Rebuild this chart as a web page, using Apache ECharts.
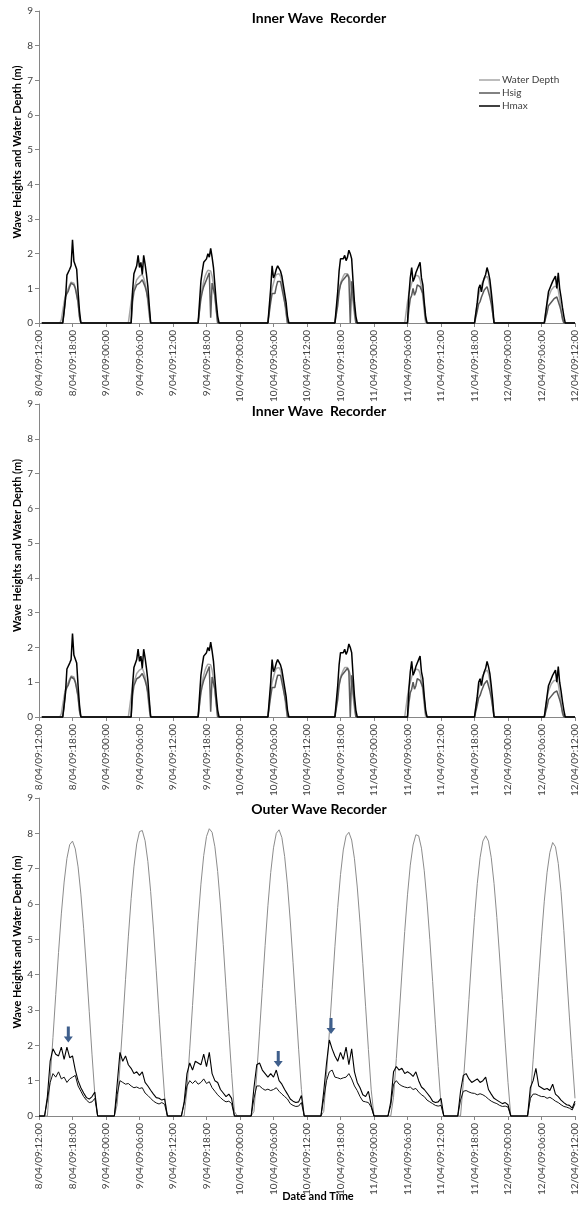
<!DOCTYPE html>
<html><head><meta charset="utf-8">
<script src="https://cdn.jsdelivr.net/npm/echarts@6/dist/echarts.min.js"></script>
<style>html,body{margin:0;padding:0;background:#fff}#c{width:579px;height:1207px}</style>
</head><body><div id="c"></div>
<script>
// x values are hours since 8/04/09 12:00
const xTickLabels = ['8/04/09:12:00','8/04/09:18:00','9/04/09:00:00','9/04/09:06:00','9/04/09:12:00','9/04/09:18:00','10/04/09:00:00','10/04/09:06:00','10/04/09:12:00','10/04/09:18:00','11/04/09:00:00','11/04/09:06:00','11/04/09:12:00','11/04/09:18:00','12/04/09:00:00','12/04/09:06:00','12/04/09:12:00'];
const seriesNames = ['Water Depth','Hsig','Hmax'];
const panelTitles = ['Inner Wave  Recorder','Inner Wave  Recorder','Outer Wave Recorder'];
const yAxisTitle = 'Wave Heights and Water Depth (m)';
const xAxisTitle = 'Date and Time';

// ---- Inner wave recorder ----
const innerTime = [0.5,
 3.75,4,4.25,4.5,4.75,5,5.25,5.5,5.75,6,6.25,6.5,6.75,7,7.25,7.5,7.75,
 16,16.25,16.5,16.75,17,17.25,17.5,17.75,18,18.25,18.5,18.75,19,19.25,19.5,19.75,20,
 28.5,28.75,29,29.25,29.5,29.75,30,30.25,30.5,30.75,31,31.25,31.5,31.75,32,32.25,
 41,41.25,41.5,41.75,42,42.25,42.5,42.75,43,43.25,43.5,43.75,44,44.25,44.5,44.75,
 53,53.25,53.5,53.75,54,54.25,54.5,54.75,55,55.25,55.5,55.75,56,56.25,56.5,56.75,57,
 65.5,65.75,66,66.25,66.5,66.75,67,67.25,67.5,67.75,68,68.25,68.5,68.75,69,69.25,69.5,
 78,78.25,78.5,78.75,79,79.25,79.5,79.75,80,80.25,80.5,80.75,81,81.25,81.5,
 90.5,90.75,91,91.25,91.5,91.75,92,92.25,92.5,92.75,93,93.25,93.5,93.75,94,94.25,
 96];
const innerDepth = [0,
 0,0.1,0.35,0.6,0.8,0.9,1.0,1.1,1.18,1.2,1.15,1.02,0.85,0.55,0.15,0,0,
 0,0.3,0.6,0.85,1.0,1.12,1.25,1.3,1.35,1.38,1.4,1.3,1.15,0.95,0.6,0.2,0,
 0,0.4,0.8,1.0,1.2,1.35,1.45,1.52,1.55,1.5,1.35,1.1,0.75,0.35,0,0,
 0,0.4,0.75,1.0,1.15,1.3,1.4,1.45,1.42,1.35,1.2,0.95,0.6,0.25,0,0,
 0,0.35,0.7,0.95,1.15,1.25,1.35,1.42,1.45,1.42,1.35,1.2,0.95,0.6,0.25,0,0,
 0,0.3,0.6,0.85,1.0,1.15,1.25,1.32,1.38,1.4,1.35,1.25,1.05,0.75,0.35,0,0,
 0,0.3,0.55,0.8,0.95,1.1,1.2,1.28,1.33,1.35,1.25,1.05,0.7,0.3,0,
 0,0.3,0.55,0.75,0.85,0.95,1.0,1.05,1.1,1.05,0.95,0.7,0.4,0.1,0,0,
 0];
const innerHsig = [0,
 0,0,0,0.3,0.75,0.85,0.92,1.05,1.15,1.2,1.1,1.0,0.8,0.6,0.2,0,0,
 0,0,0,0.6,0.9,1.0,1.1,1.12,1.15,1.2,1.25,1.15,1.05,0.9,0.7,0.35,0,
 0,0,0.7,0.9,1.05,1.15,1.25,1.35,1.45,0.15,1.15,1.1,0.8,0.4,0,0,
 0,0,0.6,0.85,0.8,0.85,1.05,1.2,1.15,1.2,1.0,0.8,0.75,0.4,0,0,
 0,0,0.5,0.9,1.1,1.2,1.25,1.3,1.35,1.4,1.3,0.0,1.2,0.8,0.4,0,0,
 0,0,0,0.4,0.7,0.8,1.0,0.8,0.9,1.1,1.05,1.05,1.1,0.85,0.5,0.1,0,
 0,0,0.35,0.55,0.62,0.75,0.8,0.95,1.0,1.05,0.9,0.75,0.55,0.3,0,
 0,0,0.3,0.5,0.55,0.6,0.6,0.7,0.75,0.75,0.7,0.5,0.35,0.15,0,0,
 0];
const innerHmax = [0,
 0,0,0,0,0.7,1.38,1.42,1.55,1.65,2.4,1.78,1.75,1.55,0.9,0.35,0,0,
 0,0,0,0.9,1.42,1.45,1.65,1.95,1.6,1.75,1.4,1.95,1.7,1.4,1.05,0.5,0,
 0,0,1.2,1.5,1.75,1.8,1.85,2.0,1.9,2.15,1.9,1.6,1.1,0.6,0.2,0,
 0,0,1.0,1.65,1.3,1.4,1.55,1.65,1.6,1.5,1.35,1.1,1.05,0.6,0.2,0,
 0,0,0.9,1.5,1.85,1.9,1.85,1.95,1.8,1.9,2.1,2.0,1.85,1.2,0.6,0.2,0,
 0,0,0,0.8,1.3,1.6,1.2,1.3,1.45,1.55,1.65,1.75,1.3,1.1,0.6,0.2,0,
 0,0,0.6,1.0,1.1,0.9,1.15,1.3,1.4,1.6,1.45,1.25,0.9,0.5,0,
 0,0,0.6,0.9,1.0,1.05,1.2,1.25,1.35,1.0,1.45,1.0,0.75,0.45,0.2,0,
 0];

// ---- Outer wave recorder ----
const outerDepthTime = [0,
 1.5,2,2.5,3,3.5,4,4.5,5,5.5,6,6.5,7,7.5,8,8.5,9,9.5,10,10.5,
 13.5,14,14.5,15,15.5,16,16.5,17,17.5,18,18.5,19,19.5,20,20.5,21,21.5,22,22.5,23,
 26,26.5,27,27.5,28,28.5,29,29.5,30,30.5,31,31.5,32,32.5,33,33.5,34,34.5,35,35.5,
 38,38.5,39,39.5,40,40.5,41,41.5,42,42.5,43,43.5,44,44.5,45,45.5,46,46.5,47,47.5,
 50.5,51,51.5,52,52.5,53,53.5,54,54.5,55,55.5,56,56.5,57,57.5,58,58.5,59,59.5,60,
 63,63.5,64,64.5,65,65.5,66,66.5,67,67.5,68,68.5,69,69.5,70,70.5,71,71.5,72,72.5,
 75.5,76,76.5,77,77.5,78,78.5,79,79.5,80,80.5,81,81.5,82,82.5,83,83.5,84,84.5,
 87.5,88,88.5,89,89.5,90,90.5,91,91.5,92,92.5,93,93.5,94,94.5,95,95.5,96];
const outerDepth = [0,
 0,1.04,2.22,3.44,4.63,5.72,6.62,7.29,7.68,7.78,7.56,7.05,6.28,5.30,4.16,2.95,1.73,0.60,0,
 0,0.32,1.42,2.62,3.87,5.07,6.15,7.05,7.70,8.05,8.08,7.79,7.20,6.35,5.29,4.11,2.87,1.66,0.54,0,
 0,0.75,1.90,3.13,4.37,5.54,6.56,7.37,7.91,8.13,8.03,7.62,6.92,5.97,4.85,3.63,2.39,1.20,0.13,0,
 0,0.13,1.19,2.38,3.61,4.83,5.95,6.89,7.59,8.00,8.10,7.88,7.34,6.54,5.52,4.35,3.12,1.89,0.75,0,
 0,0.13,1.18,2.36,3.58,4.79,5.90,6.83,7.53,7.93,8.03,7.81,7.28,6.48,5.47,4.31,3.09,1.88,0.74,0,
 0,0.53,1.63,2.83,4.05,5.22,6.26,7.10,7.67,7.96,7.93,7.58,6.94,6.06,4.99,3.81,2.58,1.40,0.32,0,
 0,0.95,2.09,3.30,4.50,5.62,6.58,7.31,7.78,7.93,7.78,7.31,6.58,5.62,4.50,3.30,2.09,0.95,0,
 0,0.51,1.59,2.75,3.94,5.07,6.08,6.90,7.46,7.74,7.62,7.15,6.35,5.25,4.02,2.80,1.62,0.50];
const outerWaveTime = [0,1,
 1.5,2,2.5,3,3.5,4,4.5,5,5.5,6,6.5,7,7.5,8,8.5,9,9.5,10,10.5,
 13.5,14,14.5,15,15.5,16,16.5,17,17.5,18,18.5,19,19.5,20,20.5,21,21.5,22,22.5,23,
 25.5,26,26.5,27,27.5,28,28.5,29,29.5,30,30.5,31,31.5,32,32.5,33,33.5,34,34.5,35,
 38,38.5,39,39.5,40,40.5,41,41.5,42,42.5,43,43.5,44,44.5,45,45.5,46,46.5,47,47.5,
 50.5,51,51.5,52,52.5,53,53.5,54,54.5,55,55.5,56,56.5,57,57.5,58,58.5,59,59.5,60,
 62.5,63,63.5,64,64.5,65,65.5,66,66.5,67,67.5,68,68.5,69,69.5,70,70.5,71,71.5,72,72.5,
 75,75.5,76,76.5,77,77.5,78,78.5,79,79.5,80,80.5,81,81.5,82,82.5,83,83.5,84,84.5,
 87.5,88,88.5,89,89.5,90,90.5,91,91.5,92,92.5,93,93.5,94,94.5,95,95.5,96];
const outerHsig = [0,0,
 0.45,0.95,1.2,1.1,1.25,1.05,1.1,0.95,1.05,1.1,1.15,0.85,0.7,0.55,0.45,0.38,0.4,0.5,0,
 0,0.6,1.0,0.95,0.9,0.92,0.85,0.8,0.82,0.78,0.8,0.65,0.58,0.5,0.42,0.37,0.34,0.38,0.33,0,
 0,0.35,0.85,1.0,0.92,1.0,0.9,0.95,1.05,0.92,0.97,0.8,0.7,0.6,0.52,0.45,0.4,0.42,0.35,0,
 0,0.5,0.85,0.85,0.78,0.73,0.76,0.72,0.75,0.8,0.7,0.62,0.55,0.48,0.35,0.3,0.27,0.28,0.38,0,
 0,0.5,1.0,1.25,1.3,1.1,1.08,1.05,1.08,1.1,1.2,1.05,0.85,0.72,0.55,0.42,0.4,0.38,0.25,0,
 0,0.3,0.9,1.0,0.9,0.85,0.82,0.8,0.82,0.75,0.78,0.68,0.6,0.55,0.45,0.4,0.35,0.3,0.28,0.3,0,
 0,0.45,0.7,0.72,0.68,0.65,0.64,0.6,0.63,0.6,0.55,0.48,0.42,0.38,0.35,0.3,0.27,0.28,0.25,0,
 0,0.5,0.62,0.62,0.58,0.55,0.55,0.5,0.53,0.48,0.42,0.38,0.32,0.27,0.25,0.22,0.17,0.35];
const outerHmax = [0,0,
 0.55,1.55,1.9,1.75,1.7,1.95,1.6,1.95,1.65,1.7,1.3,1.0,0.8,0.65,0.52,0.48,0.55,0.68,0,
 0,0.9,1.8,1.55,1.7,1.45,1.35,1.2,1.25,1.15,1.25,0.95,0.85,0.73,0.62,0.52,0.5,0.45,0.48,0,
 0,0.4,1.2,1.5,1.3,1.55,1.5,1.45,1.75,1.4,1.8,1.2,1.0,0.95,0.75,0.65,0.55,0.62,0.5,0,
 0,0.8,1.45,1.5,1.3,1.2,1.1,1.2,1.1,1.3,1.0,0.9,0.75,0.62,0.48,0.42,0.38,0.4,0.58,0,
 0,0.7,1.5,2.15,1.9,1.7,1.55,1.8,1.6,1.95,1.45,1.9,1.25,0.95,0.8,0.6,0.55,0.7,0.3,0,
 0,0.4,1.25,1.4,1.3,1.35,1.2,1.25,1.2,1.12,1.25,1.0,0.82,0.75,0.65,0.55,0.42,0.38,0.4,0.5,0,
 0,0.7,1.15,1.2,1.05,0.95,1.0,1.05,0.95,1.0,1.1,0.75,0.62,0.5,0.45,0.4,0.35,0.38,0.32,0,
 0,0.8,1.0,1.35,0.85,0.8,0.75,0.78,0.72,0.9,0.62,0.55,0.45,0.38,0.32,0.3,0.22,0.42];
// arrow annotations (hour, value at arrow tip)
const outerArrows = [[5.25,2.08],[42.85,1.39],[52.3,2.32]];

const zip = (t, v) => t.map((x, i) => [x, v[i]]);
const FONT = 'Lato';
const axisGrey = '#868686';
const gridTops = [11, 404, 798];
const gridHeights = [312, 313, 318];

const grids = gridTops.map((t, i) => ({left: 39, right: 4, top: t, height: gridHeights[i], outerBoundsMode: 'none'}));
const xAxes = gridTops.map((t, i) => ({
  type: 'value', gridIndex: i, min: 0, max: 96, interval: 6,
  axisLine: {show: true, lineStyle: {color: axisGrey, width: 1}},
  axisTick: {show: true, length: 4, lineStyle: {color: axisGrey}},
  splitLine: {show: false},
  axisLabel: {rotate: 90, fontSize: 10, color: '#404040', fontFamily: FONT, margin: 7,
    showMaxLabel: true, showMinLabel: true, hideOverlap: false,
    formatter: v => xTickLabels[Math.round(v / 6)]},
  name: i === 2 ? xAxisTitle : '', nameLocation: 'middle', nameGap: 75, nameMoveOverlap: false,
  nameTextStyle: {fontWeight: 'bold', fontSize: 11, color: '#000', fontFamily: FONT, padding: [0, 0, 0, 22]}
}));
const yAxes = gridTops.map((t, i) => ({
  type: 'value', gridIndex: i, min: 0, max: 9, interval: 1,
  axisLine: {show: true, lineStyle: {color: axisGrey, width: 1}},
  axisTick: {show: true, length: 4, lineStyle: {color: axisGrey}},
  splitLine: {show: false},
  axisLabel: {fontSize: 10, color: '#404040', fontFamily: FONT, margin: 6},
  name: yAxisTitle, nameLocation: 'middle', nameGap: 16, nameRotate: 90, nameMoveOverlap: false,
  nameTextStyle: {fontWeight: 'bold', fontSize: 11, color: '#000', fontFamily: FONT, padding: [0, 0, 0, 30]}
}));
const titles = panelTitles.map((txt, i) => ({
  text: txt, left: 319, textAlign: 'center', top: gridTops[i] + (i === 2 ? 4 : 0), padding: 0,
  textStyle: {fontSize: 14, fontWeight: 'bold', color: '#000', fontFamily: FONT}
}));

function lineSeries(name, idx, data, color, width, extra) {
  return Object.assign({
    name, type: 'line', xAxisIndex: idx, yAxisIndex: idx, data,
    symbol: 'none', showSymbol: false, smooth: false, silent: true, clip: false,
    lineStyle: {color, width}, itemStyle: {color}
  }, extra || {});
}

const series = [];
[0, 1].forEach(p => {
  series.push(lineSeries(seriesNames[0], p, zip(innerTime, innerDepth), '#a6a6a6', 1.5));
  series.push(lineSeries(seriesNames[1], p, zip(innerTime, innerHsig), '#595959', 1.5));
  series.push(lineSeries(seriesNames[2], p, zip(innerTime, innerHmax), '#000000', 1.5));
});
series.push(lineSeries(seriesNames[0], 2, zip(outerDepthTime, outerDepth), '#8c8c8c', 1));
series.push(lineSeries(seriesNames[1], 2, zip(outerWaveTime, outerHsig), '#111111', 1));
series.push(lineSeries(seriesNames[2], 2, zip(outerWaveTime, outerHmax), '#000000', 1.1, {
  markPoint: {
    silent: true,
    symbol: 'path://M3,0 L6,0 L6,10 L9,10 L4.5,16 L0,10 L3,10 Z',
    symbolSize: [9, 16], symbolKeepAspect: false, symbolOffset: [0, '-50%'],
    itemStyle: {color: '#3f5f8c'}, label: {show: false},
    data: outerArrows.map(a => ({coord: a}))
  }
}));

const chart = echarts.init(document.getElementById('c'), null, {renderer: 'canvas'});
chart.setOption({
  animation: false,
  backgroundColor: '#fff',
  textStyle: {fontFamily: FONT},
  title: titles,
  legend: {
    data: seriesNames, orient: 'vertical', left: 474, top: 70,
    icon: 'rect', itemWidth: 21, itemHeight: 1.5, itemGap: 3,
    textStyle: {fontSize: 10, color: '#404040', fontFamily: FONT, padding: [0, 0, 0, -3]},
    selectedMode: false
  },
  grid: grids, xAxis: xAxes, yAxis: yAxes, series
});
</script></body></html>
